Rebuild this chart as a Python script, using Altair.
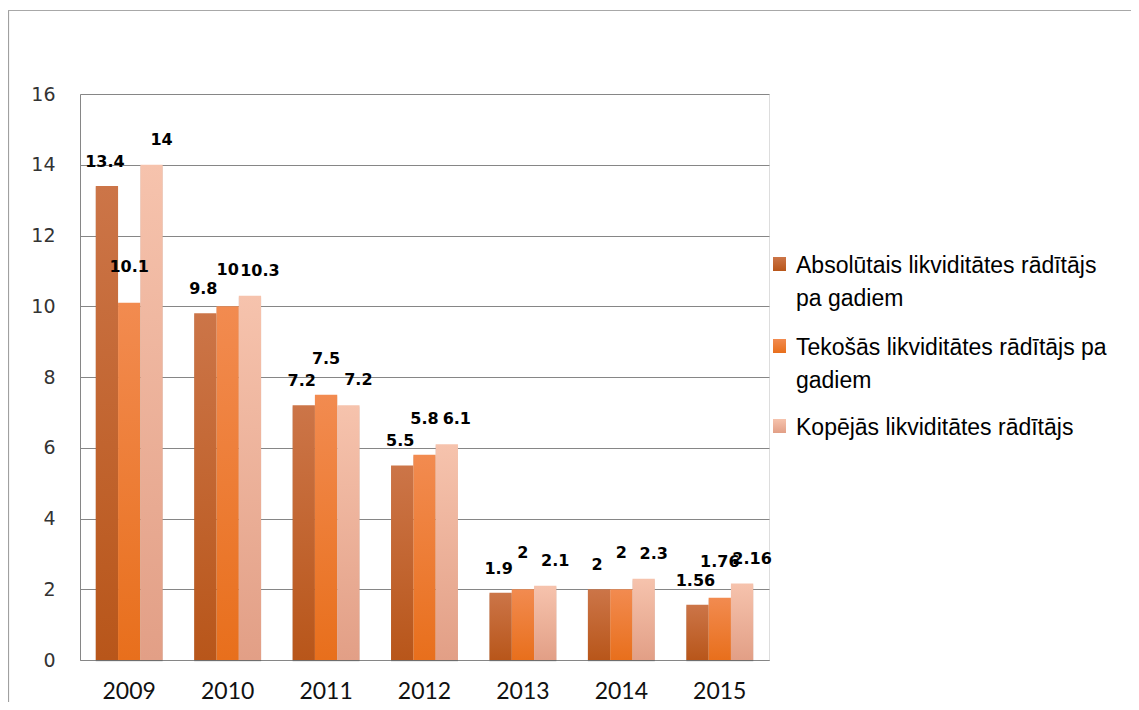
import altair as alt
import pandas as pd

years = ["2009", "2010", "2011", "2012", "2013", "2014", "2015"]
series = [
    "Absolūtais likviditātes rādītājs pa gadiem",
    "Tekošās likviditātes rādītājs pa gadiem",
    "Kopējās likviditātes rādītājs",
]
absolute = [13.4, 9.8, 7.2, 5.5, 1.9, 2, 1.56]
current = [10.1, 10, 7.5, 5.8, 2, 2, 1.76]
total = [14, 10.3, 7.2, 6.1, 2.1, 2.3, 2.16]
legend_lines = [
    "Absolūtais likviditātes rādītājs\npa gadiem",
    "Tekošās likviditātes rādītājs pa\ngadiem",
    "Kopējās likviditātes rādītājs",
]
y_ticks = [0, 2, 4, 6, 8, 10, 12, 14, 16]

colors_top = ["#CC7548", "#F28B50", "#F6C3AD"]
colors_bottom = ["#B8561A", "#E86F1C", "#E29F86"]
label_dy = [-24, -36, -25]
label_dx = [-2, 0, 10]

rows = []
for s, vals in zip(series, [absolute, current, total]):
    for y, v in zip(years, vals):
        rows.append({"year": y, "series": s, "value": v, "label": f"{v:g}"})
df = pd.DataFrame(rows)


def grad(i):
    return alt.Gradient(
        gradient="linear",
        stops=[
            alt.GradientStop(color=colors_top[i], offset=0),
            alt.GradientStop(color=colors_bottom[i], offset=1),
        ],
        x1=0, x2=0, y1=0, y2=1,
    )


x_enc = alt.X(
    "year:N",
    sort=years,
    scale=alt.Scale(paddingInner=0.32, paddingOuter=0.16),
    axis=alt.Axis(
        labelAngle=0, ticks=False, domainColor="#868686", labelFont="Lato",
        labelFontSize=23, labelPadding=20, labelColor="#111111", title=None,
    ),
)
y_enc = alt.Y(
    "value:Q",
    scale=alt.Scale(domain=[0, 16], nice=False),
    axis=alt.Axis(
        values=y_ticks, grid=True, gridColor="#868686", domainColor="#868686",
        ticks=False, labelFont="DejaVu Sans", labelFontSize=19, labelPadding=25,
        labelColor="#333333", title=None,
    ),
)
xo_enc = alt.XOffset(
    "series:N", sort=series,
    scale=alt.Scale(domain=series, paddingInner=0, paddingOuter=0),
)

base = alt.Chart(df).encode(x=x_enc, y=y_enc, xOffset=xo_enc)

layers = []
layers.append(base.mark_bar(color="#000000", opacity=0.08, xOffset=5, yOffset=2))
layers.append(base.mark_bar(color="#000000", opacity=0.10, xOffset=3, yOffset=1))
for i, s in enumerate(series):
    layers.append(
        base.transform_filter(alt.datum.series == s).mark_bar(color=grad(i))
    )
for i, s in enumerate(series):
    layers.append(
        base.transform_filter(alt.datum.series == s)
        .mark_text(dy=label_dy[i], dx=label_dx[i], font="DejaVu Sans", fontSize=16,
                   fontWeight="bold", color="#000000", baseline="middle")
        .encode(text="label:N")
    )

# manual legend
first_line_y = [172, 254, 334]
line_h = 33
for i, txt in enumerate(legend_lines):
    ld = pd.DataFrame({"label": [txt]})
    layers.append(
        alt.Chart(ld).mark_rect(color=grad(i)).encode(
            x=alt.value(693), x2=alt.value(706),
            y=alt.value(first_line_y[i] - 9), y2=alt.value(first_line_y[i] + 5),
        )
    )
    layers.append(
        alt.Chart(ld).mark_text(
            align="left", baseline="middle", font="Liberation Sans", fontSize=23,
            lineBreak="\n", lineHeight=line_h, color="#000000",
        ).encode(
            x=alt.value(716),
            y=alt.value(first_line_y[i]),
            text="label:N",
        )
    )

# outer frame (left and top edges)
frame = pd.DataFrame({"k": [0]})
layers.append(
    alt.Chart(frame).mark_rule(color="#A0A0A0", strokeWidth=1.2).encode(
        x=alt.value(-71.5), y=alt.value(-84), y2=alt.value(700)
    )
)
layers.append(
    alt.Chart(frame).mark_rule(color="#A8A8A8", strokeWidth=1.2).encode(
        x=alt.value(-72), x2=alt.value(1200), y=alt.value(-83.5)
    )
)

chart = (
    alt.layer(*layers)
    .properties(
        width=689, height=566,
        autosize=alt.AutoSizeParams(type="none"),
        padding={"left": 72, "top": 86, "right": 362, "bottom": 42},
    )
    .configure_view(strokeOpacity=0)
    .configure(background="white")
)

chart.save("out.html", embed_options={"renderer": "svg", "actions": False})
